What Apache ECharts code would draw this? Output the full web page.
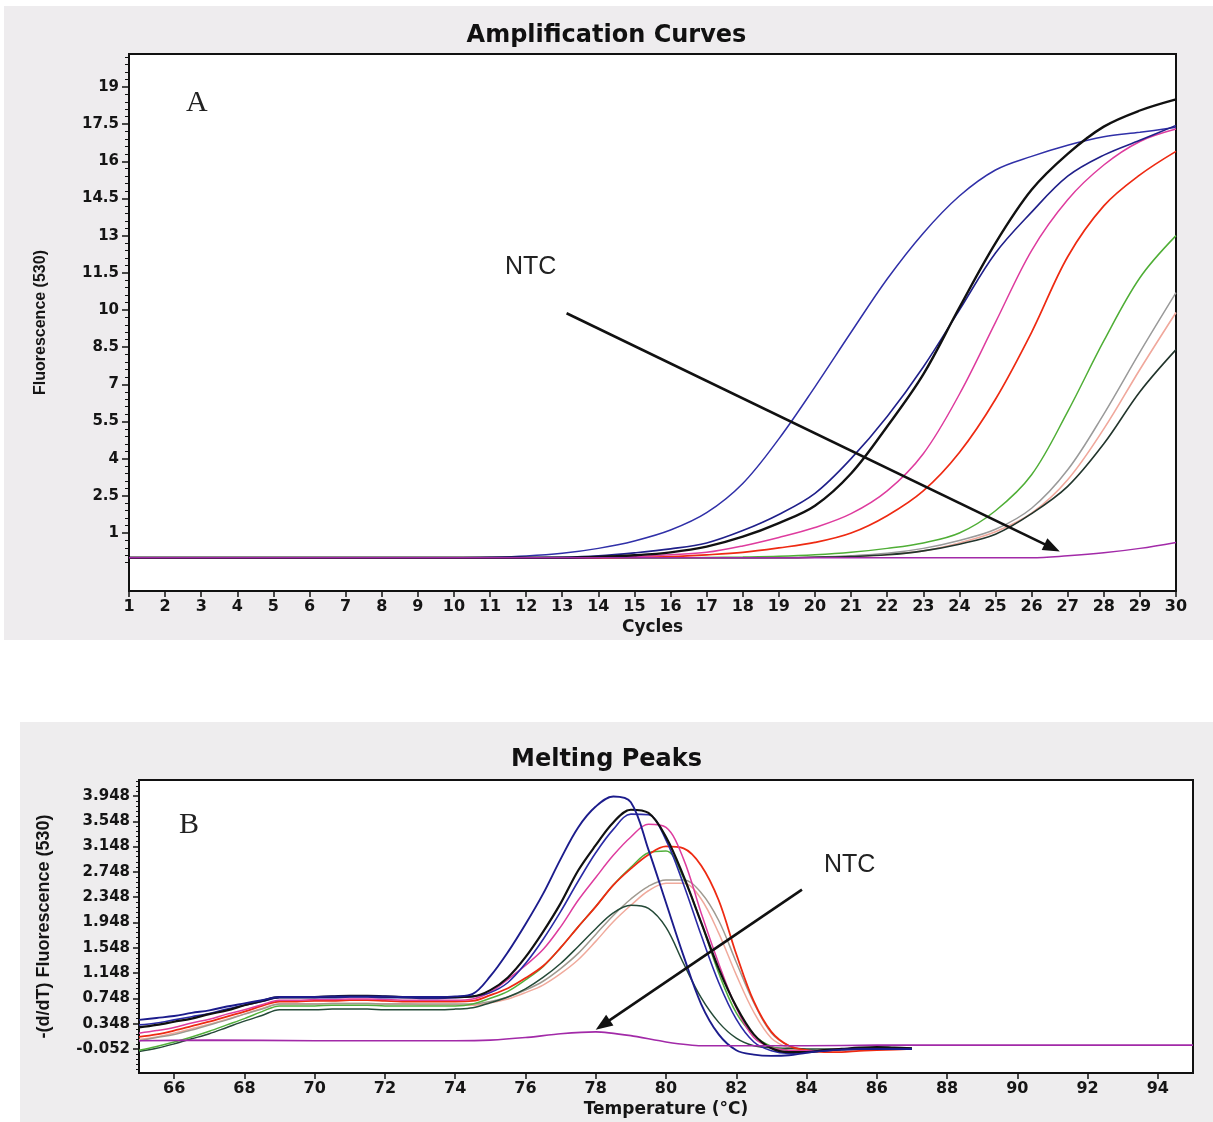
<!DOCTYPE html>
<html><head><meta charset="utf-8">
<script src="https://cdn.jsdelivr.net/npm/echarts@6/dist/echarts.min.js"></script>
<style>html,body{margin:0;padding:0;background:#fff}#c{width:1213px;height:1122px}</style>
</head><body><div id="c"></div>
<script>
// ---------- Panel A: amplification curves ----------
const cycles = [1,2,3,4,5,6,7,8,9,10,11,12,13,14,15,16,17,18,19,20,21,22,23,24,25,26,27,28,29,30];
const ampBlue   = [0,0,0,0,0,0,0,0,0,0,0.02,0.07,0.18,0.38,0.68,1.12,1.82,3.0,4.8,6.9,9.1,11.25,13.1,14.6,15.65,16.2,16.65,16.99,17.17,17.37];
const ampBlack  = [0,0,0,0,0,0,0,0,0,0,0,0,0,0.03,0.1,0.22,0.45,0.85,1.4,2.1,3.4,5.3,7.4,10.1,12.7,14.85,16.3,17.4,18.05,18.5];
const ampNavy   = [0,0,0,0,0,0,0,0,0,0,0,0,0.02,0.08,0.2,0.36,0.6,1.1,1.75,2.6,4.0,5.7,7.7,10.0,12.3,13.95,15.4,16.25,16.85,17.45];
const ampPink   = [0,0,0,0,0,0,0,0,0,0,0,0,0,0.02,0.05,0.12,0.22,0.48,0.82,1.22,1.78,2.7,4.2,6.6,9.5,12.4,14.45,15.85,16.8,17.3];
const ampRed    = [0,0,0,0,0,0,0,0,0,0,0,0,0,0,0.02,0.05,0.12,0.22,0.4,0.62,1.0,1.7,2.7,4.25,6.4,9.1,12.15,14.2,15.45,16.4];
const ampGreen  = [0,0,0,0,0,0,0,0,0,0,0,0,0,0,0,0,0.01,0.03,0.06,0.12,0.22,0.38,0.6,1.0,1.9,3.35,5.9,8.75,11.3,13.0];
const ampGray   = [0,0,0,0,0,0,0,0,0,0,0,0,0,0,0,0,0,0,0.01,0.03,0.08,0.18,0.38,0.7,1.15,2.0,3.55,5.8,8.3,10.7];
const ampSalmon = [0,0,0,0,0,0,0,0,0,0,0,0,0,0,0,0,0,0,0,0.02,0.05,0.12,0.28,0.6,1.05,1.8,3.15,5.2,7.6,9.9];
const ampDark   = [0,0,0,0,0,0,0,0,0,0,0,0,0,0,0,0,0,0,0,0.02,0.05,0.12,0.28,0.55,0.95,1.78,2.88,4.6,6.7,8.4];
const ampNTC    = [0,0,0,0,0,0,0,0,0,0,0,0,0,0,0,0,0,0,0,0,0,0,0,0,0,0,0.08,0.2,0.38,0.62];
const yTicksA = [1,2.5,4,5.5,7,8.5,10,11.5,13,14.5,16,17.5,19];
const arrowA = {from:[13.12, 9.87], to:[26.57, 0.4]};

// ---------- Panel B: melting peaks ----------
const meltT = [65,65.5,66,66.5,67,67.5,68,68.5,69,69.5,70,70.5,71,71.5,72,72.5,73,73.5,74,74.5,75,75.5,76,76.5,77,77.5,78,78.5,79,79.5,80,80.5,81,81.5,82,82.5,83,83.5,84,84.5,85,85.5,86,86.5,87];
const meltNavy1 = [0.41,0.44,0.47,0.52,0.56,0.62,0.67,0.72,0.77, 0.77,0.77,0.78,0.78,0.78,0.78,0.77,0.77,0.77, 0.78,0.82, 1.1,1.48,1.92,2.4,2.95,3.45,3.78,3.94,3.85,3.1,2.26,1.42,0.66,0.18,-0.07,-0.14,-0.16,-0.15, -0.11,-0.08,-0.06,-0.05,-0.05,-0.05,-0.05];
const meltBlack = [0.29,0.33,0.38,0.43,0.50,0.56,0.64,0.71,0.77, 0.77,0.77,0.78,0.79,0.79,0.78,0.77,0.77,0.77, 0.77,0.78, 0.88,1.08,1.4,1.8,2.25,2.77,3.17,3.53,3.73,3.68,3.3,2.68,1.95,1.22,0.62,0.18,-0.04,-0.1, -0.1,-0.07,-0.05,-0.03,-0.02,-0.03,-0.04];
const meltNavy2 = [0.33,0.36,0.41,0.46,0.51,0.58,0.64,0.70,0.76, 0.76,0.76,0.76,0.77,0.77,0.76,0.76,0.75,0.75, 0.76,0.78, 0.84,1.0,1.3,1.68,2.12,2.6,3.05,3.42,3.66,3.65,3.25,2.55,1.75,1.0,0.42,0.06,-0.08,-0.12, -0.1,-0.08,-0.06,-0.05,-0.04,-0.04,-0.05];
const meltPink  = [0.20,0.24,0.29,0.36,0.42,0.50,0.57,0.65,0.72, 0.72,0.73,0.73,0.74,0.74,0.73,0.72,0.72,0.72, 0.72,0.74, 0.85,1.05,1.27,1.52,1.88,2.3,2.66,3.01,3.3,3.5,3.45,2.95,2.1,1.3,0.6,0.13,-0.03,-0.07, -0.08,-0.07,-0.05,-0.04,-0.04,-0.04,-0.05];
const meltRed   = [0.14,0.18,0.24,0.31,0.38,0.46,0.54,0.63,0.70, 0.70,0.71,0.71,0.72,0.72,0.71,0.70,0.70,0.70, 0.70,0.71, 0.8,0.91,1.07,1.26,1.55,1.88,2.2,2.54,2.8,3.02,3.15,3.12,2.85,2.3,1.45,0.7,0.22,0.0, -0.07,-0.1,-0.1,-0.08,-0.07,-0.06,-0.05];
const meltGreen = [-0.07,-0.01,0.06,0.14,0.23,0.33,0.43,0.54,0.63, 0.63,0.63,0.64,0.64,0.64,0.63,0.63,0.63,0.63, 0.63,0.66, 0.75,0.86,1.04,1.25,1.55,1.88,2.2,2.54,2.82,3.05,3.08,2.65,1.95,1.15,0.52,0.17,-0.01,-0.07, -0.08,-0.07,-0.06,-0.05,-0.05,-0.05,-0.05];
const meltSalmon= [0.10,0.14,0.20,0.27,0.34,0.42,0.50,0.59,0.66, 0.66,0.66,0.67,0.67,0.67,0.66,0.66,0.65,0.65, 0.65,0.64, 0.68,0.74,0.84,0.96,1.14,1.36,1.65,1.96,2.22,2.45,2.57,2.57,2.32,1.78,1.12,0.53,0.12,-0.03, -0.07,-0.08,-0.07,-0.06,-0.05,-0.05,-0.05];
const meltGray  = [0.08,0.13,0.18,0.25,0.33,0.41,0.50,0.58,0.66, 0.66,0.66,0.67,0.67,0.67,0.66,0.66,0.66,0.66, 0.66,0.66, 0.7,0.77,0.88,1.02,1.22,1.46,1.76,2.06,2.32,2.52,2.62,2.62,2.42,1.98,1.32,0.68,0.2,0.0, -0.06,-0.07,-0.06,-0.05,-0.05,-0.04,-0.04];
const meltDark  = [-0.09,-0.04,0.03,0.11,0.19,0.29,0.39,0.48,0.57, 0.57,0.57,0.58,0.58,0.58,0.57,0.57,0.57,0.57, 0.58,0.6, 0.68,0.77,0.9,1.08,1.3,1.57,1.85,2.1,2.22,2.17,1.87,1.3,0.76,0.37,0.12,0.0,-0.03,-0.04, -0.05,-0.05,-0.05,-0.04,-0.04,-0.04,-0.04];
const ntcT = [65,67,70,72,74,75,76,77,78,79,80,81,82,84,86,88,90,92,95];
const ntcV = [0.08,0.09,0.08,0.08,0.08,0.09,0.13,0.19,0.22,0.16,0.06,0.0,0.0,0.0,0.01,0.01,0.01,0.01,0.01];
const yTicksB = [-0.052,0.348,0.748,1.148,1.548,1.948,2.348,2.748,3.148,3.548,3.948];
const xTicksB = [66,68,70,72,74,76,78,80,82,84,86,88,90,92,94];
const arrowB = {from:[83.87, 2.468], to:[78.2, 0.33]};

// ---------- helpers ----------
function pairs(xs, ys){ return xs.map((x,i)=>[x, ys[i]]); }
function minorTicks(majors, n, lo, hi){
  const step = majors[1]-majors[0], sub = step/n, out = [];
  for (let k = -n; k <= majors.length*n; k++){
    if (k % n === 0) continue;
    const v = majors[0] + k*sub;
    if (v >= lo && v <= hi) out.push(+v.toFixed(5));
  }
  return out;
}

const AMIN = -1.34, AMAX = 20.33, BMIN = -0.43, BMAX = 4.2;
const narrow = "'Liberation Sans Narrow', 'Liberation Sans', Arial, sans-serif";
const heavy = "'DejaVu Sans', 'Liberation Sans', sans-serif";
const ink = '#151515';

function lineSeries(name, data, color, width, xi){
  return {name, type:'line', xAxisIndex:xi, yAxisIndex:xi*2, data, showSymbol:false, smooth:0.35,
    lineStyle:{color, width}, itemStyle:{color}, emphasis:{disabled:true}, z:3};
}
function arrowLine(a){
  return {silent:true, symbol:['none','triangle'], symbolSize:[13,17], label:{show:false},
    lineStyle:{color:'#111', width:2.6, type:'solid'}, emphasis:{disabled:true},
    data:[[{coord:a.from},{coord:a.to}]]};
}

const chart = echarts.init(document.getElementById('c'), null, {renderer:'canvas'});

const ampSeries = [
  lineSeries('blue', pairs(cycles, ampBlue), '#3030a8', 1.5, 0),
  lineSeries('salmon', pairs(cycles, ampSalmon), '#f0a89c', 1.6, 0),
  lineSeries('gray', pairs(cycles, ampGray), '#9a9a9a', 1.5, 0),
  lineSeries('dark', pairs(cycles, ampDark), '#22352c', 1.6, 0),
  lineSeries('green', pairs(cycles, ampGreen), '#4fae36', 1.5, 0),
  lineSeries('red', pairs(cycles, ampRed), '#ee2a12', 1.7, 0),
  lineSeries('pink', pairs(cycles, ampPink), '#de3c9e', 1.5, 0),
  lineSeries('navy', pairs(cycles, ampNavy), '#20208a', 1.6, 0),
  lineSeries('black', pairs(cycles, ampBlack), '#111111', 2.4, 0),
  Object.assign(lineSeries('NTC', pairs(cycles, ampNTC), '#a22aa8', 1.5, 0), {markLine: arrowLine(arrowA)})
];
const meltSeries = [
  lineSeries('salmon', pairs(meltT, meltSalmon), '#f0aa9c', 1.5, 1),
  lineSeries('gray', pairs(meltT, meltGray), '#a09a90', 1.5, 1),
  lineSeries('dark', pairs(meltT, meltDark), '#254a38', 1.5, 1),
  lineSeries('green', pairs(meltT, meltGreen), '#52b03c', 1.5, 1),
  lineSeries('red', pairs(meltT, meltRed), '#ee2a12', 1.8, 1),
  lineSeries('pink', pairs(meltT, meltPink), '#de3c9e', 1.5, 1),
  lineSeries('navy2', pairs(meltT, meltNavy2), '#2a2aa6', 1.6, 1),
  lineSeries('black', pairs(meltT, meltBlack), '#111111', 2.2, 1),
  lineSeries('navy1', pairs(meltT, meltNavy1), '#1c1c8c', 1.9, 1),
  Object.assign(lineSeries('NTC', pairs(ntcT, ntcV), '#a22aa8', 1.6, 1), {smooth:0.2, markLine: arrowLine(arrowB)})
];

const tickLabel = (ff, fs) => ({color:ink, fontFamily:ff, fontWeight:'bold', fontSize:fs});

chart.setOption({
  animation:false,
  backgroundColor:'#ffffff',
  title:[
    {text:'Amplification Curves', left:'center', top:19,
     textStyle:{fontFamily:heavy, fontWeight:'bold', fontSize:24, color:'#111'}},
    {text:'Melting Peaks', left:'center', top:743,
     textStyle:{fontFamily:heavy, fontWeight:'bold', fontSize:24, color:'#111'}}
  ],
  grid:[
    {left:129, top:54, right:37, bottom:531, show:true, backgroundColor:'#ffffff', borderColor:'#111', borderWidth:2},
    {left:139, top:780, right:20, bottom:49, show:true, backgroundColor:'#ffffff', borderColor:'#111', borderWidth:2}
  ],
  xAxis:[
    {gridIndex:0, type:'value', min:1, max:30, interval:1,
     axisLine:{show:true, onZero:false, lineStyle:{color:'#111', width:2}},
     axisTick:{show:true, length:6, lineStyle:{color:'#111', width:1.5}},
     axisLabel:Object.assign(tickLabel(heavy, 16), {margin:8}),
     splitLine:{show:false},
     name:'Cycles', nameLocation:'middle', nameGap:28,
     nameTextStyle:{fontFamily:heavy, fontWeight:'bold', fontSize:17, color:ink}},
    {gridIndex:1, type:'value', min:65, max:95,
     axisLine:{show:true, onZero:false, lineStyle:{color:'#111', width:2}},
     axisTick:{show:true, length:6, customValues:xTicksB, lineStyle:{color:'#111', width:1.5}},
     axisLabel:Object.assign(tickLabel(heavy, 16), {margin:8, customValues:xTicksB}),
     splitLine:{show:false},
     name:'Temperature (°C)', nameLocation:'middle', nameGap:28,
     nameTextStyle:{fontFamily:heavy, fontWeight:'bold', fontSize:17, color:ink}}
  ],
  yAxis:[
    {gridIndex:0, type:'value', position:'left', min:AMIN, max:AMAX,
     axisLine:{show:true, onZero:false, lineStyle:{color:'#111', width:2}},
     axisTick:{show:true, length:7, customValues:yTicksA, lineStyle:{color:'#111', width:1.5}},
     axisLabel:Object.assign(tickLabel(heavy, 15), {margin:10, customValues:yTicksA}),
     splitLine:{show:false},
     name:'Fluorescence (530)', nameLocation:'middle', nameGap:80, nameRotate:90,
     nameTextStyle:{fontFamily:narrow, fontWeight:'bold', fontSize:16, color:ink}},
    {gridIndex:0, type:'value', position:'left', offset:0, min:AMIN, max:AMAX,
     axisLine:{show:false}, axisLabel:{show:false}, splitLine:{show:false},
     axisTick:{show:true, length:4, customValues:minorTicks(yTicksA, 5, AMIN, AMAX), lineStyle:{color:'#111', width:1}}},
    {gridIndex:1, type:'value', position:'left', min:BMIN, max:BMAX,
     axisLine:{show:true, onZero:false, lineStyle:{color:'#111', width:2}},
     axisTick:{show:true, length:6, customValues:yTicksB, lineStyle:{color:'#111', width:1.5}},
     axisLabel:Object.assign(tickLabel(heavy, 15), {margin:9, customValues:yTicksB}),
     splitLine:{show:false},
     name:'-(d/dT) Fluorescence (530)', nameLocation:'middle', nameGap:86, nameRotate:90,
     nameTextStyle:{fontFamily:narrow, fontWeight:'bold', fontSize:18, color:ink}},
    {gridIndex:1, type:'value', position:'left', offset:0, min:BMIN, max:BMAX,
     axisLine:{show:false}, axisLabel:{show:false}, splitLine:{show:false},
     axisTick:{show:true, length:3, customValues:minorTicks(yTicksB, 5, BMIN, BMAX), lineStyle:{color:'#111', width:1}}}
  ],
  graphic:[
    {type:'rect', z:-100, silent:true, shape:{x:4, y:6, width:1209, height:634}, style:{fill:'#eeecee'}},
    {type:'rect', z:-100, silent:true, shape:{x:20, y:722, width:1193, height:400}, style:{fill:'#eeedee'}},
    {type:'text', z:50, silent:true, left:186, top:88, style:{text:'A', fontFamily:"'Liberation Serif', 'DejaVu Serif', serif", fontSize:30, fill:'#222'}},
    {type:'text', z:50, silent:true, left:179, top:810, style:{text:'B', fontFamily:"'Liberation Serif', 'DejaVu Serif', serif", fontSize:30, fill:'#222'}},
    {type:'text', z:50, silent:true, left:505, top:255, style:{text:'NTC', fontFamily:"'Liberation Sans', Arial, sans-serif", fontSize:25, fill:'#222'}},
    {type:'text', z:50, silent:true, left:824, top:853, style:{text:'NTC', fontFamily:"'Liberation Sans', Arial, sans-serif", fontSize:25, fill:'#222'}}
  ],
  series: ampSeries.concat(meltSeries)
});
</script>
</body></html>
